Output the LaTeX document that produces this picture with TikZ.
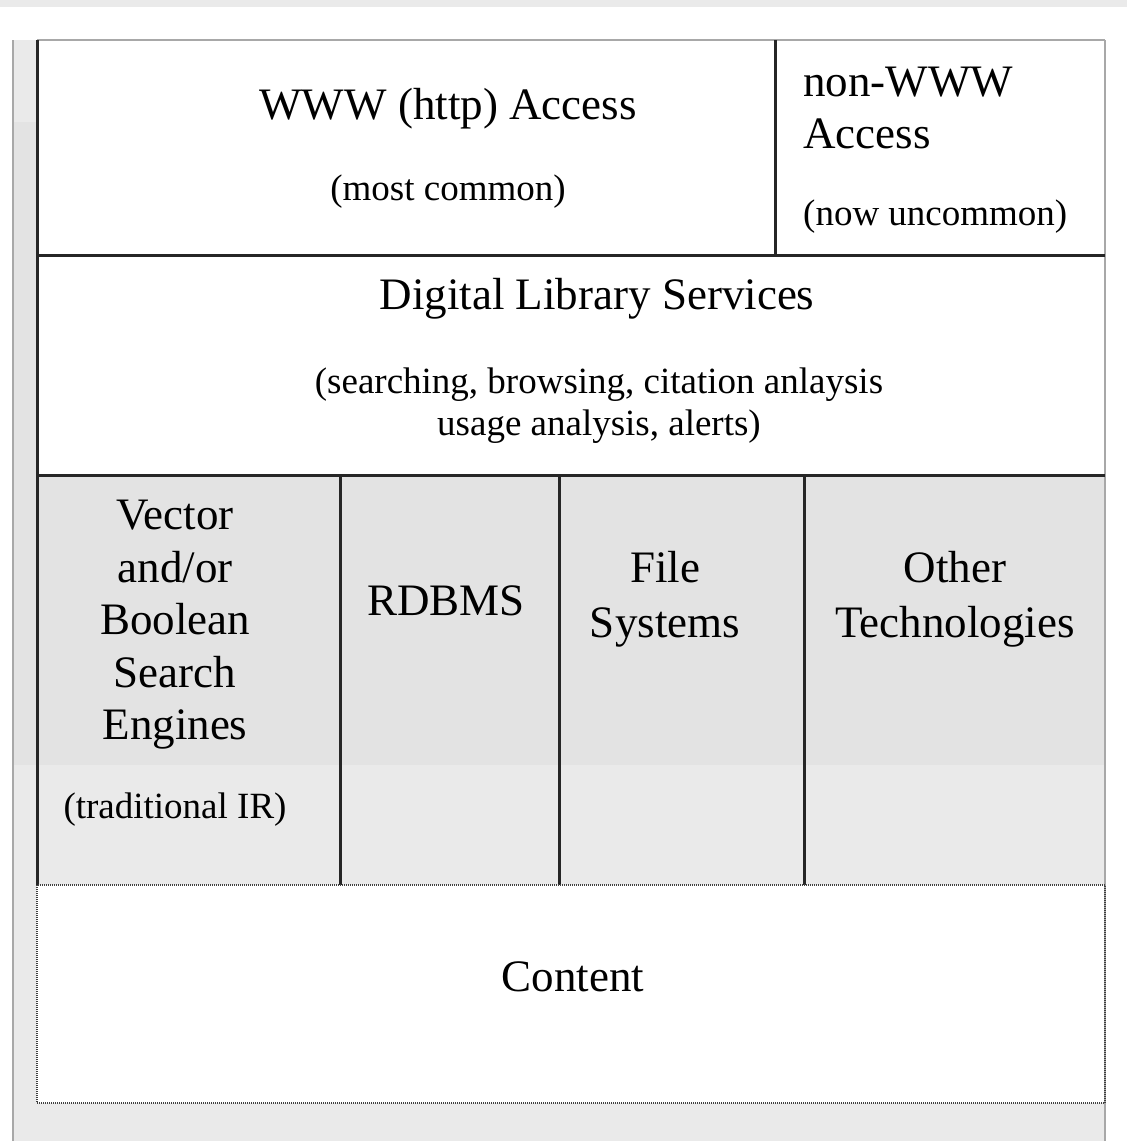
\documentclass[tikz,border=0pt]{standalone}
\usepackage{fontspec}
\setmainfont{Liberation Serif}
\usetikzlibrary{calc}
\definecolor{scangray}{HTML}{EAEAEA}
\definecolor{cellgray}{HTML}{E3E3E3}
\definecolor{rimgray}{HTML}{A8A8A8}
\tikzset{
  big/.style={font=\fontsize{45}{53}\selectfont, align=center, inner sep=0pt},
  small/.style={font=\fontsize{37}{42}\selectfont, align=center, inner sep=0pt},
  wall/.style={black!85, line width=3pt},
  rim/.style={rimgray, line width=1.2pt},
  dotrim/.style={black!75, line width=1.2pt, dash pattern=on 1pt off 1pt},
}
\begin{document}
\begin{tikzpicture}[x=1pt,y=-1pt]
\useasboundingbox (0,0) rectangle (1127,1141);
% page and scanned panel
\fill[white] (0,0) rectangle (1127,1141);
\fill[scangray] (0,0) rectangle (1127,7);
\fill[scangray] (13,40) rectangle (1105,1141);
\fill[cellgray] (13,122) rectangle (1105,765);
\fill[white] (37,40) rectangle (1105,475);
\fill[white] (37,885) rectangle (1105,1103);
\draw[rim] (13,40) -- (13,1141);
\draw[rim] (1105,40) -- (1105,1141);
\draw[rim] (37,40) -- (1105,40);

% layers
\draw[wall] (37,40) -- (37,885);
\draw[wall] (775,40) -- (775,255);
\draw[wall] (37,255) -- (1105,255);
\draw[wall] (37,475) -- (1105,475);
\foreach \x in {340, 559, 804} {
  \draw[wall] (\x,475) -- (\x,885);
}
\draw[dotrim] (37,885) rectangle (1105,1103);

% access layer
\node[big] (www) at (448,109) {WWW (http) Access};
\node[small] (wwwnote) at (448,192) {(most common)};
\node[big, align=left, anchor=west] (nonwww) at (803,108) {non-WWW\\[-1pt]Access};
\node[small, anchor=west] (nonwwwnote) at (803,217) {(now uncommon)};

% services layer
\node[big] (dls) at (597,299) {Digital Library Services};
\node[small] (dlsnote) at (599,406) {(searching, browsing, citation anlaysis\\usage analysis, alerts)};

% technology layer
\node[big] (engines) at (175,625) {Vector\\[-0.5pt]and/or\\[-0.5pt]Boolean\\[-0.5pt]Search\\[-0.5pt]Engines};
\node[small] (enginesnote) at (175,810) {(traditional IR)};
\node[big] (rdbms) at (446,601) {RDBMS};
\node[big] (files) at (665,599) {File\\[2pt]Systems};
\node[big] (other) at (955,599) {Other\\[2pt]Technologies};

% content layer
\node[big] (content) at (573,977) {Content};
\end{tikzpicture}
\end{document}
